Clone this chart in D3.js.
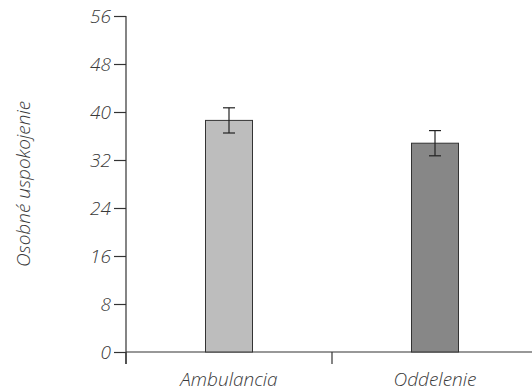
<!DOCTYPE html>
<html>
<head>
<meta charset="utf-8">
<script src="https://cdn.jsdelivr.net/npm/d3@7"></script>
<style>
  body { margin: 0; background: #fff; }
  .tick text, .label { font-family: 'Open Sans', sans-serif; font-style: italic; font-weight: 300; fill: #3a3a3a; }
</style>
</head>
<body>
<div id="chart"></div>
<script>
var categories = ['Ambulancia', 'Oddelenie'];
var means = [38.6, 34.8];
var errors = [2.1, 2.1];
var colors = ['#bdbdbd', '#878787'];
var yTicks = [0, 8, 16, 24, 32, 40, 48, 56];

var width = 532;
var height = 392;

var svg = d3.select('#chart').append('svg')
  .attr('width', width)
  .attr('height', height);

var data = categories.map(function(c, i) {
  return { name: c, mean: means[i], err: errors[i], color: colors[i] };
});

// scales
var xScale = d3.scaleBand()
  .domain(categories)
  .range([126, 538]);

var yScale = d3.scaleLinear()
  .domain([0, 56])
  .range([352, 16]);

var barWidth = 47;

// y axis
var yAxis = svg.append('g')
  .attr('transform', 'translate(126,0)')
  .call(d3.axisLeft(yScale).tickValues(yTicks).tickSize(12).tickPadding(3));
yAxis.select('.domain').remove();
yAxis.selectAll('.tick line').attr('stroke', '#333').attr('stroke-width', 1.2);
yAxis.selectAll('.tick text').style('font-size', '19px').attr('dy', '0.36em');

svg.append('line')
  .attr('x1', 126).attr('x2', 126)
  .attr('y1', yScale(56)).attr('y2', 364)
  .attr('stroke', '#333').attr('stroke-width', 1.2);

// x axis
svg.append('line')
  .attr('x1', 126).attr('x2', width)
  .attr('y1', yScale(0)).attr('y2', yScale(0))
  .attr('stroke', '#333').attr('stroke-width', 1.2);

var xTickPos = [126, 126 + xScale.bandwidth()];
svg.selectAll('.xtick')
  .data(xTickPos)
  .enter()
  .append('line')
  .attr('class', 'xtick')
  .attr('x1', function(d) { return d; })
  .attr('x2', function(d) { return d; })
  .attr('y1', yScale(0))
  .attr('y2', yScale(0) + 12)
  .attr('stroke', '#333').attr('stroke-width', 1.2);

svg.selectAll('.xlabel')
  .data(categories)
  .enter()
  .append('text')
  .attr('class', 'label')
  .attr('x', function(d) { return xScale(d) + xScale.bandwidth() / 2; })
  .attr('y', 386)
  .attr('text-anchor', 'middle')
  .style('font-size', '19px')
  .text(function(d) { return d; });

// bars
svg.selectAll('.bar')
  .data(data)
  .enter()
  .append('rect')
  .attr('class', 'bar')
  .attr('x', function(d) { return xScale(d.name) + xScale.bandwidth() / 2 - barWidth / 2; })
  .attr('y', function(d) { return yScale(d.mean); })
  .attr('width', barWidth)
  .attr('height', function(d) { return yScale(0) - yScale(d.mean); })
  .attr('fill', function(d) { return d.color; })
  .attr('stroke', '#333')
  .attr('stroke-width', 1);

// error bars
var eb = svg.selectAll('.err')
  .data(data)
  .enter()
  .append('g')
  .attr('class', 'err')
  .attr('stroke', '#222')
  .attr('stroke-width', 1.2);

eb.append('line')
  .attr('x1', function(d) { return xScale(d.name) + xScale.bandwidth() / 2; })
  .attr('x2', function(d) { return xScale(d.name) + xScale.bandwidth() / 2; })
  .attr('y1', function(d) { return yScale(d.mean + d.err); })
  .attr('y2', function(d) { return yScale(d.mean - d.err); });

[1, -1].forEach(function(s) {
  eb.append('line')
    .attr('x1', function(d) { return xScale(d.name) + xScale.bandwidth() / 2 - 6; })
    .attr('x2', function(d) { return xScale(d.name) + xScale.bandwidth() / 2 + 6; })
    .attr('y1', function(d) { return yScale(d.mean + s * d.err); })
    .attr('y2', function(d) { return yScale(d.mean + s * d.err); });
});

// y axis title
svg.append('text')
  .attr('class', 'label')
  .attr('text-anchor', 'middle')
  .attr('transform', 'translate(30,' + 184 + ') rotate(-90)')
  .style('font-size', '19px')
  .text('Osobné uspokojenie');
</script>
</body>
</html>
